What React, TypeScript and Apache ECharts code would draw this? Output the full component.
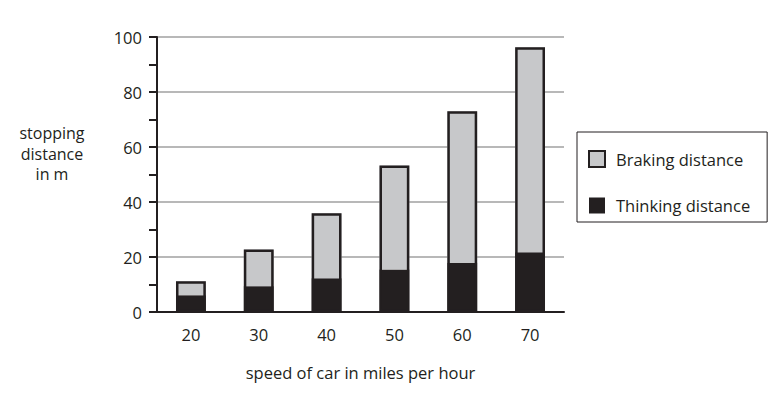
import React, { useEffect, useRef } from "react";
import * as echarts from "echarts";

const speeds = ["20", "30", "40", "50", "60", "70"];
const thinking = [6.1, 9.4, 12.3, 15.5, 17.9, 21.7];
const braking = [5.1, 13.3, 23.6, 37.8, 55.1, 74.6];
const yTicks = { min: 0, max: 100, interval: 20 };
const yTitleLines = ["stopping", "distance", "in m"];
const xTitle = "speed of car in miles per hour";

const DARK = "#231f20";
const GREY = "#c7c8ca";
const FONT = "'Open Sans', 'Noto Sans', sans-serif";
const FS = 16.5;

export default function App() {
  const ref = useRef<HTMLDivElement>(null);
  useEffect(() => {
    if (!ref.current) return;
    const chart = echarts.init(ref.current, undefined, { renderer: "svg" });
    const totals = thinking.map((t, i) => t + braking[i]);
    chart.setOption({
      animation: false,
      backgroundColor: "#ffffff",
      textStyle: { fontFamily: FONT },
      grid: { left: 157, right: 215, top: 37, bottom: 83, containLabel: false },
      legend: {
        orient: "vertical",
        left: 577,
        top: 132,
        data: [
          { name: "Braking distance", itemStyle: { color: GREY, borderColor: DARK, borderWidth: 2 } },
          { name: "Thinking distance", itemStyle: { color: DARK, borderColor: DARK, borderWidth: 0 } },
        ],
        icon: "rect",
        itemWidth: 16,
        itemHeight: 16,
        itemGap: 29,
        padding: [18, 17, 8, 11],
        borderColor: DARK,
        borderWidth: 1,
        textStyle: { fontSize: FS, color: DARK, fontFamily: FONT, padding: [0, 0, 0, 6] },
        selectedMode: false,
      },
      xAxis: {
        type: "category",
        data: speeds,
        boundaryGap: true,
        axisLine: { lineStyle: { color: DARK, width: 2 } },
        axisTick: { alignWithLabel: true, length: 8, lineStyle: { color: DARK, width: 2 } },
        axisLabel: { fontSize: FS, color: DARK, margin: 14, fontFamily: FONT },
        name: xTitle,
        nameLocation: "middle",
        nameGap: 52,
        nameTextStyle: { fontSize: FS, color: DARK, fontFamily: FONT },
      },
      yAxis: {
        type: "value",
        min: yTicks.min,
        max: yTicks.max,
        interval: yTicks.interval,
        axisLine: { show: true, lineStyle: { color: DARK, width: 2 } },
        axisTick: { show: true, length: 8, lineStyle: { color: DARK, width: 2 } },
        minorTick: { show: true, splitNumber: 2, length: 8, lineStyle: { color: DARK, width: 2 } },
        axisLabel: { fontSize: FS, color: DARK, margin: 15, fontFamily: FONT },
        splitLine: { show: true, lineStyle: { color: "#b8b8b8", width: 2 } },
      },
      graphic: yTitleLines.map((line, i) => ({
        type: "text",
        x: 52,
        y: 133 + i * 20.7,
        style: {
          text: line,
          textAlign: "center",
          textVerticalAlign: "middle",
          fontSize: 16,
          fill: DARK,
          fontFamily: FONT,
        },
      })),
      series: [
        {
          name: "Thinking distance",
          type: "bar",
          stack: "total",
          data: thinking,
          barWidth: "44%",
          itemStyle: { color: DARK, borderWidth: 0 },
        },
        {
          name: "Braking distance",
          type: "bar",
          stack: "total",
          data: braking,
          barWidth: "44%",
          itemStyle: { color: GREY, borderWidth: 0 },
        },
        {
          name: "outline",
          type: "bar",
          data: totals,
          barWidth: "44%",
          barGap: "-100%",
          silent: true,
          z: 3,
          itemStyle: { color: "transparent", borderColor: DARK, borderWidth: 2.5 },
        },
      ],
    });
    return () => chart.dispose();
  }, []);
  return (
    <div
      ref={ref}
      style={{ position: "fixed", left: 0, top: 0, width: 779, height: 395 }}
    />
  );
}
